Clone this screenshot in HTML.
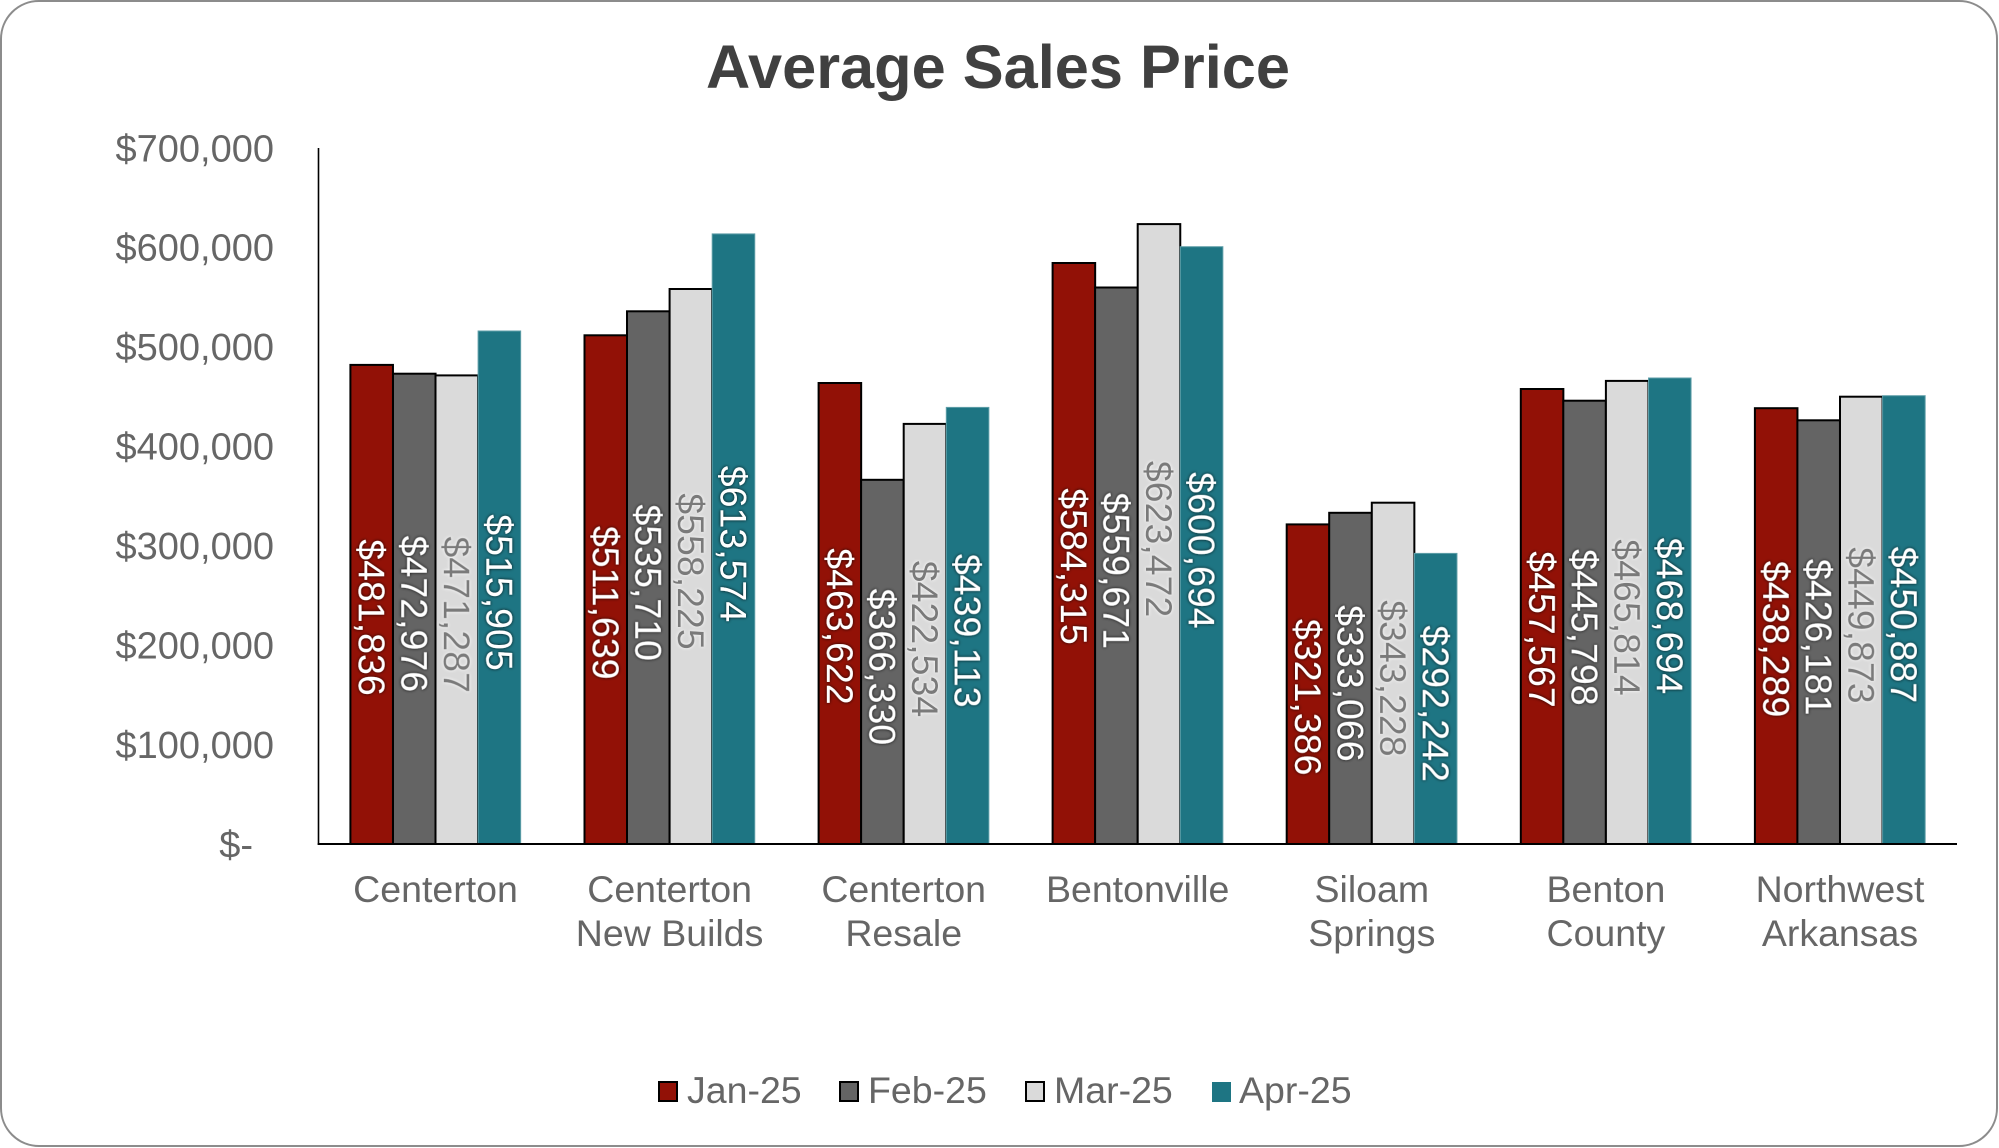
<!DOCTYPE html>
<html>
<head>
<meta charset="utf-8">
<style>
html,body{margin:0;padding:0;background:#fff;}
svg{display:block;}
text{font-family:"Liberation Sans",Arial,sans-serif;}
.ax{font-size:38px;fill:#666;}
.cat{font-size:37.5px;fill:#666;text-anchor:middle;}
.lg{font-size:37.5px;fill:#666;}
.dl{font-size:37.5px;text-anchor:middle;}
.w{fill:#fff;filter:url(#dk);}
.g{fill:#7a7a7a;filter:url(#lt);}
</style>
</head>
<body>
<svg width="1999" height="1148" viewBox="0 0 1999 1148" xmlns="http://www.w3.org/2000/svg">
<defs>
<filter id="dk" x="-30%" y="-30%" width="160%" height="160%">
<feDropShadow dx="0" dy="0" stdDeviation="1.6" flood-color="#000" flood-opacity="0.9"/>
</filter>
<filter id="lt" x="-30%" y="-30%" width="160%" height="160%">
<feDropShadow dx="0" dy="0" stdDeviation="1.6" flood-color="#fff" flood-opacity="1"/>
</filter>
</defs>
<rect x="1" y="1" width="1996" height="1145" rx="38" ry="38" fill="#fff" stroke="#8c8c8c" stroke-width="2"/>

<text x="706" y="88" font-size="61" font-weight="bold" fill="#404040" textLength="584" lengthAdjust="spacingAndGlyphs">Average Sales Price</text>

<!-- y axis labels -->
<g class="ax" text-anchor="end">
<text x="274" y="148" dy=".35em">$700,000</text>
<text x="274" y="247.4" dy=".35em">$600,000</text>
<text x="274" y="346.9" dy=".35em">$500,000</text>
<text x="274" y="446.3" dy=".35em">$400,000</text>
<text x="274" y="545.7" dy=".35em">$300,000</text>
<text x="274" y="645.1" dy=".35em">$200,000</text>
<text x="274" y="744.6" dy=".35em">$100,000</text>
<text x="253" y="844" dy=".35em">$-</text>
</g>

<!-- bars -->
<g stroke="#000" stroke-width="2">
<!-- Centerton -->
<rect x="350.4" y="364.9" width="42.56" height="479.1" fill="#921106"/>
<rect x="393.0" y="373.7" width="42.56" height="470.3" fill="#646464"/>
<rect x="435.5" y="375.4" width="42.56" height="468.6" fill="#dadada"/>
<!-- New Builds -->
<rect x="584.5" y="335.3" width="42.56" height="508.7" fill="#921106"/>
<rect x="627.0" y="311.3" width="42.56" height="532.7" fill="#646464"/>
<rect x="669.6" y="289.0" width="42.56" height="555.0" fill="#dadada"/>
<!-- Resale -->
<rect x="818.6" y="383.0" width="42.56" height="461.0" fill="#921106"/>
<rect x="861.1" y="479.8" width="42.56" height="364.2" fill="#646464"/>
<rect x="903.7" y="423.9" width="42.56" height="420.1" fill="#dadada"/>
<!-- Bentonville -->
<rect x="1052.6" y="263.0" width="42.56" height="581.0" fill="#921106"/>
<rect x="1095.1" y="287.5" width="42.56" height="556.5" fill="#646464"/>
<rect x="1137.7" y="224.1" width="42.56" height="619.9" fill="#dadada"/>
<!-- Siloam -->
<rect x="1286.7" y="524.4" width="42.56" height="319.6" fill="#921106"/>
<rect x="1329.2" y="512.8" width="42.56" height="331.2" fill="#646464"/>
<rect x="1371.8" y="502.7" width="42.56" height="341.3" fill="#dadada"/>
<!-- Benton County -->
<rect x="1520.8" y="389.0" width="42.56" height="455.0" fill="#921106"/>
<rect x="1563.3" y="400.7" width="42.56" height="443.3" fill="#646464"/>
<rect x="1605.9" y="380.9" width="42.56" height="463.1" fill="#dadada"/>
<!-- NWA -->
<rect x="1754.9" y="408.2" width="42.56" height="435.8" fill="#921106"/>
<rect x="1797.4" y="420.3" width="42.56" height="423.7" fill="#646464"/>
<rect x="1840.0" y="396.7" width="42.56" height="447.3" fill="#dadada"/>
</g>
<g fill="#1e7583" stroke="#5f9ea8" stroke-width="1">
<rect x="478.1" y="331.0" width="42.56" height="513.0"/>
<rect x="712.2" y="233.9" width="42.56" height="610.1"/>
<rect x="946.3" y="407.4" width="42.56" height="436.6"/>
<rect x="1180.3" y="246.7" width="42.56" height="597.3"/>
<rect x="1414.4" y="553.4" width="42.56" height="290.6"/>
<rect x="1648.5" y="378.0" width="42.56" height="466.0"/>
<rect x="1882.6" y="395.7" width="42.56" height="448.3"/>
</g>

<!-- axes -->
<line x1="318.5" y1="148" x2="318.5" y2="845" stroke="#000" stroke-width="1.6"/>
<line x1="317.7" y1="844" x2="1957" y2="844" stroke="#000" stroke-width="2"/>

<!-- data labels -->
<g class="dl">
<text class="w" transform="translate(371.7,617.5) rotate(90)" dy=".35em">$481,836</text>
<text class="w" transform="translate(414.3,613.9) rotate(90)" dy=".35em">$472,976</text>
<text class="g" transform="translate(456.8,614.7) rotate(90)" dy=".35em">$471,287</text>
<text class="w" transform="translate(499.4,592.5) rotate(90)" dy=".35em">$515,905</text>

<text class="w" transform="translate(605.8,602.7) rotate(90)" dy=".35em">$511,639</text>
<text class="w" transform="translate(648.3,582.7) rotate(90)" dy=".35em">$535,710</text>
<text class="g" transform="translate(690.9,571.5) rotate(90)" dy=".35em">$558,225</text>
<text class="w" transform="translate(733.5,544.0) rotate(90)" dy=".35em">$613,574</text>

<text class="w" transform="translate(839.9,626.5) rotate(90)" dy=".35em">$463,622</text>
<text class="w" transform="translate(882.4,666.9) rotate(90)" dy=".35em">$366,330</text>
<text class="g" transform="translate(925.0,639.0) rotate(90)" dy=".35em">$422,534</text>
<text class="w" transform="translate(967.6,630.7) rotate(90)" dy=".35em">$439,113</text>

<text class="w" transform="translate(1073.9,566.5) rotate(90)" dy=".35em">$584,315</text>
<text class="w" transform="translate(1116.4,570.8) rotate(90)" dy=".35em">$559,671</text>
<text class="g" transform="translate(1159.0,539.1) rotate(90)" dy=".35em">$623,472</text>
<text class="w" transform="translate(1201.6,550.4) rotate(90)" dy=".35em">$600,694</text>

<text class="w" transform="translate(1308.0,697.2) rotate(90)" dy=".35em">$321,386</text>
<text class="w" transform="translate(1350.5,683.4) rotate(90)" dy=".35em">$333,066</text>
<text class="g" transform="translate(1393.1,678.4) rotate(90)" dy=".35em">$343,228</text>
<text class="w" transform="translate(1435.7,703.7) rotate(90)" dy=".35em">$292,242</text>

<text class="w" transform="translate(1542.1,629.5) rotate(90)" dy=".35em">$457,567</text>
<text class="w" transform="translate(1584.6,627.4) rotate(90)" dy=".35em">$445,798</text>
<text class="g" transform="translate(1627.2,617.5) rotate(90)" dy=".35em">$465,814</text>
<text class="w" transform="translate(1669.8,616.0) rotate(90)" dy=".35em">$468,694</text>

<text class="w" transform="translate(1776.2,639.1) rotate(90)" dy=".35em">$438,289</text>
<text class="w" transform="translate(1818.7,637.2) rotate(90)" dy=".35em">$426,181</text>
<text class="g" transform="translate(1861.3,625.4) rotate(90)" dy=".35em">$449,873</text>
<text class="w" transform="translate(1903.9,624.9) rotate(90)" dy=".35em">$450,887</text>
</g>

<!-- category labels -->
<g class="cat">
<text x="435.5" y="902">Centerton</text>
<text x="669.6" y="902">Centerton</text>
<text x="669.6" y="946">New Builds</text>
<text x="903.7" y="902">Centerton</text>
<text x="903.7" y="946">Resale</text>
<text x="1137.7" y="902">Bentonville</text>
<text x="1371.8" y="902">Siloam</text>
<text x="1371.8" y="946">Springs</text>
<text x="1605.9" y="902">Benton</text>
<text x="1605.9" y="946">County</text>
<text x="1840.0" y="902">Northwest</text>
<text x="1840.0" y="946">Arkansas</text>
</g>

<!-- legend -->
<rect x="659" y="1082" width="18" height="19" fill="#921106" stroke="#000" stroke-width="2"/>
<text class="lg" x="687" y="1103">Jan-25</text>
<rect x="840" y="1082" width="18" height="19" fill="#646464" stroke="#000" stroke-width="2"/>
<text class="lg" x="868" y="1103">Feb-25</text>
<rect x="1026" y="1082" width="18" height="19" fill="#dadada" stroke="#000" stroke-width="2"/>
<text class="lg" x="1054" y="1103">Mar-25</text>
<rect x="1212" y="1082" width="19" height="20" fill="#1e7583"/>
<text class="lg" x="1239" y="1103">Apr-25</text>
</svg>
</body>
</html>
